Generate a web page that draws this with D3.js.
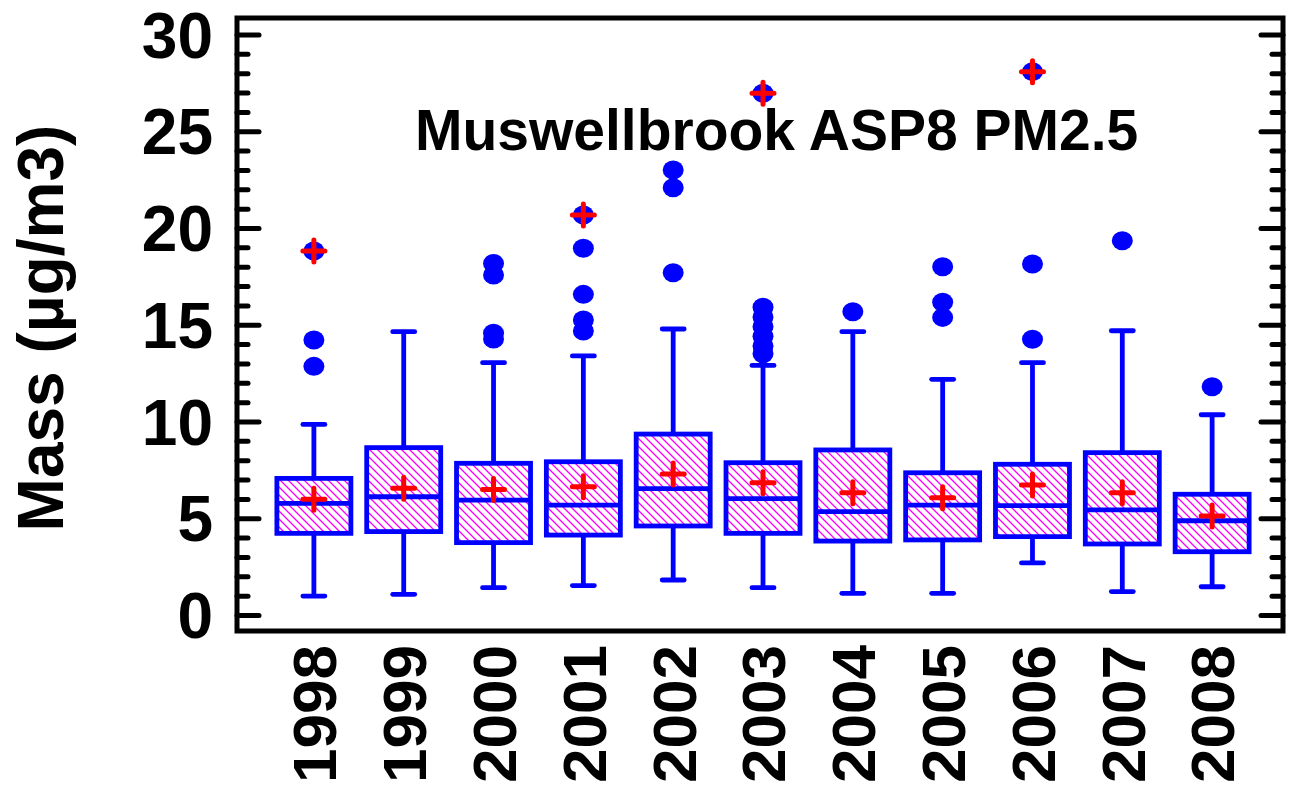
<!DOCTYPE html>
<html>
<head>
<meta charset="utf-8">
<script src="https://cdn.jsdelivr.net/npm/d3@7"></script>
<style>
  body { margin: 0; background: #fff; }
  text { font-family: "Liberation Sans", Arial, sans-serif; font-weight: bold; }
</style>
</head>
<body>
<div class="chart"></div>
<script>
// values (ug/m3)
var years = ["1998", "1999", "2000", "2001", "2002", "2003", "2004", "2005", "2006", "2007", "2008"];
var q1 = [4.22, 4.31, 3.74, 4.13, 4.60, 4.22, 3.82, 3.88, 4.05, 3.67, 3.27];
var median = [5.77, 6.11, 5.94, 5.68, 6.53, 6.01, 5.34, 5.68, 5.65, 5.43, 4.87];
var q3 = [7.06, 8.65, 7.84, 7.92, 9.35, 7.87, 8.53, 7.35, 7.79, 8.39, 6.24];
var mean = [5.98, 6.55, 6.49, 6.63, 7.29, 6.84, 6.32, 6.06, 6.72, 6.32, 5.12];
var whiskerLow = [0.98, 1.07, 1.41, 1.52, 1.81, 1.41, 1.12, 1.12, 2.69, 1.21, 1.46];
var whiskerHigh = [9.85, 14.64, 13.04, 13.39, 14.78, 12.9, 14.64, 12.18, 13.04, 14.69, 10.35];
var outliers = [
    [12.85, 14.21, 18.81],
    [],
    [14.26, 14.56, 17.57, 18.17],
    [14.68, 15.25, 16.57, 18.95, 20.67],
    [17.69, 22.08, 23.0],
    [13.5, 13.9, 14.4, 14.9, 15.4, 15.9, 26.96],
    [15.67],
    [15.38, 16.16, 18.0],
    [14.25, 18.14, 28.08],
    [19.34],
    [11.8]
];
// outliers that carry a red cross in the picture
var maxMarked = [18.81, null, null, 20.67, null, 26.96, null, null, 28.08, null, null];
var yTicks = [0, 5, 10, 15, 20, 25, 30];

var width = 1289, height = 798;
var plotLeft = 237, plotRight = 1283, plotTop = 18, plotBottom = 631;
var blue = "#0000ff", red = "#ff0000";

var svg = d3.select(".chart").append("svg")
    .attr("width", width)
    .attr("height", height);

// hatch fill for the boxes
var pat = svg.append("defs").append("pattern")
    .attr("id", "hatch")
    .attr("patternUnits", "userSpaceOnUse")
    .attr("width", 8).attr("height", 8);
pat.append("path")
    .attr("d", "M0,0 L8,8 M-2,6 L2,10 M6,-2 L10,2")
    .attr("stroke", "#ff00ff")
    .attr("stroke-width", 1.3);

var x = d3.scaleLinear().domain([-0.856, 10.789]).range([plotLeft, plotRight]);
var y = d3.scaleLinear().domain([0, 30]).range([615, 34.5]);

var boxW = 74, capW = 22, lineW = 4.8;

//Ticks on left and right, pointing inward.
var leftAxis = d3.axisRight(y).tickValues(d3.range(0, 31, 1)).tickSize(10).tickFormat("");
var rightAxis = d3.axisLeft(y).tickValues(d3.range(0, 31, 1)).tickSize(10).tickFormat("");
[[leftAxis, plotLeft, 1], [rightAxis, plotRight, -1]].forEach(function(a) {
    var g = svg.append("g").attr("transform", "translate(" + a[1] + ",0)").call(a[0]);
    g.select(".domain").remove();
    g.selectAll(".tick line")
        .attr("stroke", "#000")
        .attr("stroke-width", 5)
        .attr("stroke-linecap", "round")
        .attr("x2", function(d) { return a[2] * (d % 5 === 0 ? 22 : 11); });
});

svg.append("g").selectAll("text").data(yTicks).enter().append("text")
    .attr("x", 213)
    .attr("y", function(d) { return y(d); })
    .attr("dy", "0.36em")
    .attr("text-anchor", "end")
    .attr("font-size", 64)
    .text(function(d) { return d; });

var groups = svg.append("g").selectAll("g").data(years).enter().append("g");

//Whiskers.
groups.append("line")
    .attr("x1", function(d, i) { return x(i); })
    .attr("x2", function(d, i) { return x(i); })
    .attr("y1", function(d, i) { return y(whiskerLow[i]); })
    .attr("y2", function(d, i) { return y(whiskerHigh[i]); })
    .attr("stroke", blue).attr("stroke-width", lineW);
[whiskerLow, whiskerHigh].forEach(function(arr) {
    groups.append("line")
        .attr("x1", function(d, i) { return x(i) - capW / 2; })
        .attr("x2", function(d, i) { return x(i) + capW / 2; })
        .attr("y1", function(d, i) { return y(arr[i]); })
        .attr("y2", function(d, i) { return y(arr[i]); })
        .attr("stroke", blue).attr("stroke-width", lineW).attr("stroke-linecap", "round");
});

//Boxes.
groups.append("rect")
    .attr("x", function(d, i) { return x(i) - boxW / 2; })
    .attr("y", function(d, i) { return y(q3[i]); })
    .attr("width", boxW)
    .attr("height", function(d, i) { return y(q1[i]) - y(q3[i]); })
    .attr("fill", "#fff");
groups.append("rect")
    .attr("x", function(d, i) { return x(i) - boxW / 2; })
    .attr("y", function(d, i) { return y(q3[i]); })
    .attr("width", boxW)
    .attr("height", function(d, i) { return y(q1[i]) - y(q3[i]); })
    .attr("fill", "url(#hatch)")
    .attr("stroke", blue).attr("stroke-width", lineW);
groups.append("line")
    .attr("x1", function(d, i) { return x(i) - boxW / 2; })
    .attr("x2", function(d, i) { return x(i) + boxW / 2; })
    .attr("y1", function(d, i) { return y(median[i]); })
    .attr("y2", function(d, i) { return y(median[i]); })
    .attr("stroke", blue).attr("stroke-width", lineW);

//Outlier dots.
groups.each(function(d, i) {
    d3.select(this).selectAll("ellipse").data(outliers[i]).enter().append("ellipse")
        .attr("cx", x(i))
        .attr("cy", function(v) { return y(v); })
        .attr("rx", 10.5).attr("ry", 9.5)
        .attr("fill", blue);
});

//Red crosses: means and marked maxima.
function cross(sel, cx, cy) {
    sel.append("path")
        .attr("d", "M" + (cx - 11) + "," + cy + "H" + (cx + 11) + "M" + cx + "," + (cy - 11) + "V" + (cy + 11))
        .attr("stroke", red).attr("stroke-width", 5).attr("stroke-linecap", "round");
}
groups.each(function(d, i) {
    var g = d3.select(this);
    cross(g, x(i), y(mean[i]));
    if (maxMarked[i] !== null) cross(g, x(i), y(maxMarked[i]));
});

//Frame.
svg.append("rect")
    .attr("x", plotLeft).attr("y", plotTop)
    .attr("width", plotRight - plotLeft).attr("height", plotBottom - plotTop)
    .attr("fill", "none").attr("stroke", "#000").attr("stroke-width", 5);

//Year labels, rotated.
svg.append("g").selectAll("text").data(years).enter().append("text")
    .attr("transform", function(d, i) { return "translate(" + x(i) + ",645) rotate(-90)"; })
    .attr("dy", "0.36em")
    .attr("text-anchor", "end")
    .attr("font-size", 62)
    .text(function(d) { return d; });

svg.append("text")
    .attr("transform", "translate(63,328) rotate(-90)")
    .attr("text-anchor", "middle")
    .attr("font-size", 64)
    .text("Mass (µg/m3)");

svg.append("text")
    .attr("x", 415).attr("y", 150)
    .attr("font-size", 57)
    .text("Muswellbrook ASP8 PM2.5");
</script>
</body>
</html>
